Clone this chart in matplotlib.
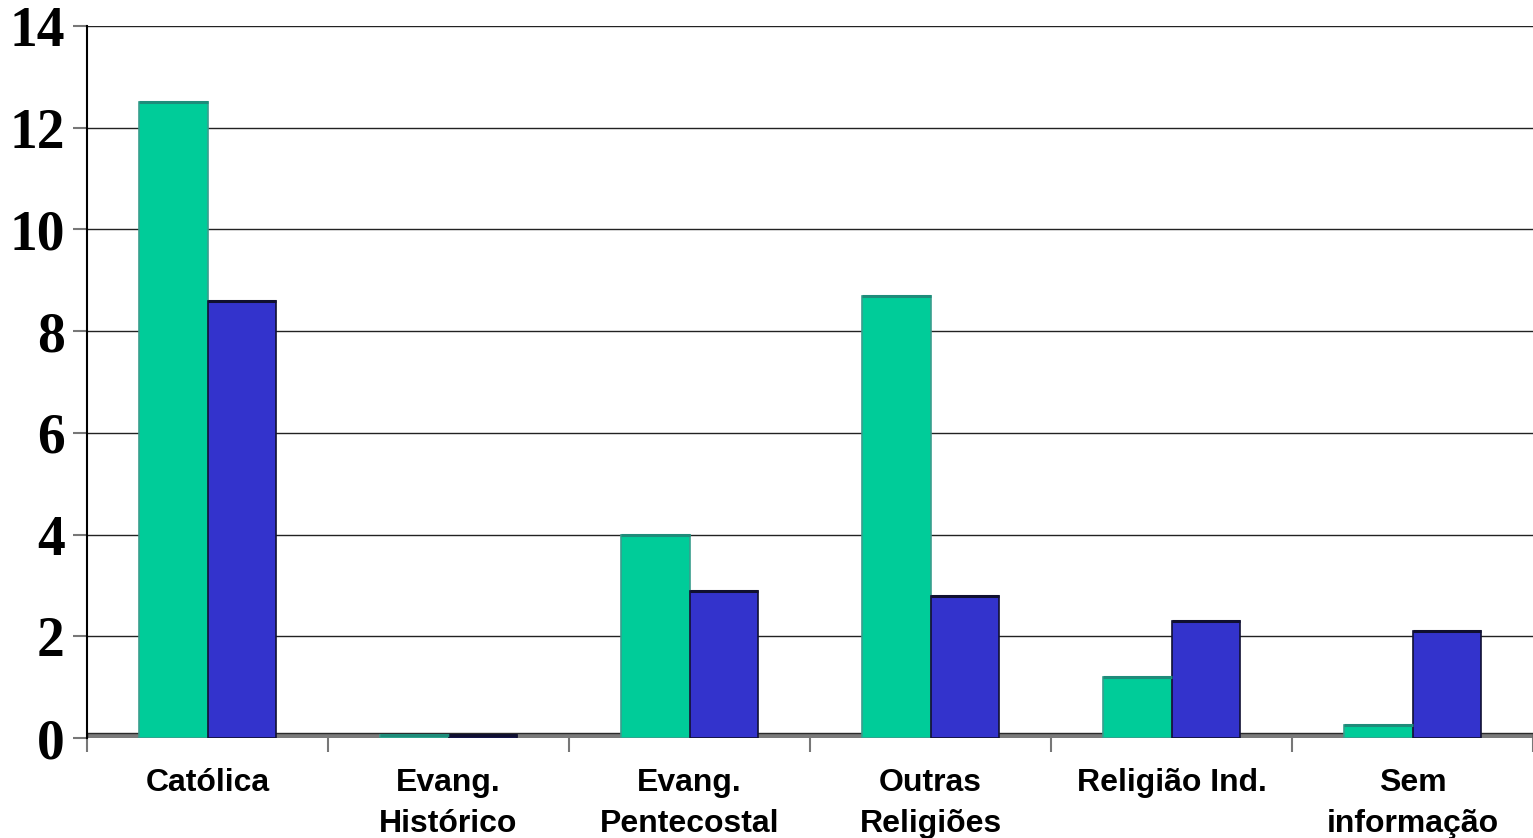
import matplotlib
matplotlib.use("Agg")
import matplotlib.pyplot as plt
import numpy as np

categories = ["Católica", "Evang.\nHistórico", "Evang.\nPentecostal", "Outras\nReligiões", "Religião Ind.", "Sem\ninformação"]
series_green = [12.5, 0.05, 4.0, 8.7, 1.2, 0.25]
series_blue = [8.6, 0.05, 2.9, 2.8, 2.3, 2.1]
y_ticks = [0, 2, 4, 6, 8, 10, 12, 14]

fig = plt.figure(figsize=(15.33, 8.38), dpi=100)
ax = fig.add_axes([87/1533, 1 - 738/838, 1 - 87/1533, (738 - 26)/838])

x = np.arange(len(categories))
w = 0.286
ax.bar(x - w/2, series_green, width=w, color="#00CC99", edgecolor="#3A9E8E", linewidth=1.2, zorder=3)
ax.bar(x + w/2, series_blue, width=w, color="#3333CC", edgecolor="#111133", linewidth=1.2, zorder=3)
# darker top rims
ax.hlines(series_green, x - w, x, colors="#1E8C7A", linewidth=2.2, zorder=4)
ax.hlines(series_blue, x, x + w, colors="#101030", linewidth=2.2, zorder=4)

# floor band
ax.axhspan(-0.03, 0.09, facecolor="#7A7A7A", edgecolor="#2A2A2A", linewidth=1.0, zorder=2)

ax.set_xlim(-0.5, len(categories) - 0.5)
ax.set_ylim(0, 14)
ax.set_yticks(y_ticks)
ax.set_yticklabels([str(v) for v in y_ticks], fontfamily="Liberation Serif", fontweight="bold", fontsize=40)
ax.yaxis.grid(True, color="#222222", linewidth=1.0, zorder=0)
ax.set_axisbelow(True)

ax.set_xticks(np.arange(-0.5, len(categories), 1.0))
ax.set_xticklabels([])
ax.set_xticks(x, minor=True)
ax.set_xticklabels(categories, minor=True, fontfamily="Liberation Sans", fontweight="bold", fontsize=23, linespacing=1.5, va="top")
ax.tick_params(axis="x", which="minor", length=0, pad=21.5)
ax.tick_params(axis="x", which="major", length=10, color="#777777", width=1.5, direction="out")
ax.tick_params(axis="y", length=10, color="#777777", width=1.5, direction="out", pad=6)

for s in ["top", "right", "bottom"]:
    ax.spines[s].set_visible(False)
ax.spines["left"].set_color("black")
ax.spines["left"].set_linewidth(1.5)

fig.savefig("out.png", dpi=100)
